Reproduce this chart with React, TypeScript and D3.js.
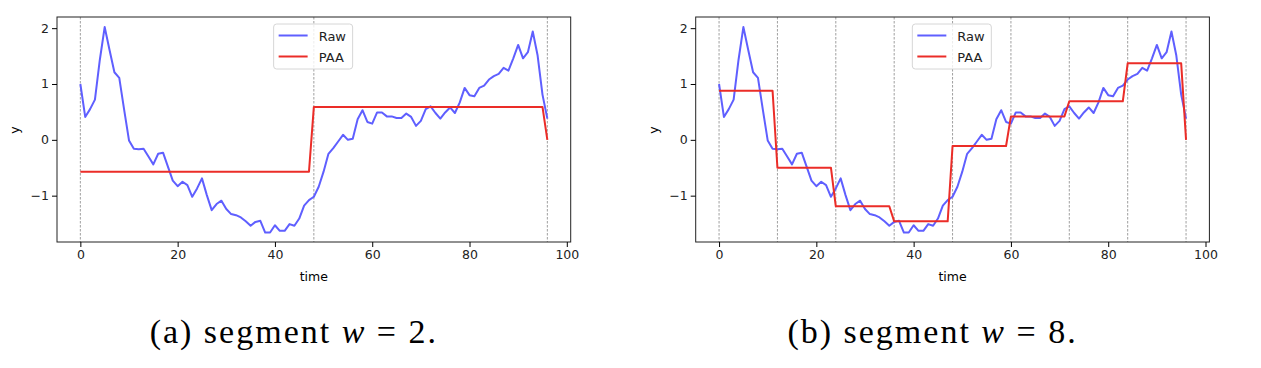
import { useRef, useEffect } from 'react';
import * as d3 from 'd3';

const times: number[] = d3.range(0, 97);

const raw: number[] = [
  1.0, 0.41, 0.55, 0.72, 1.43, 2.02, 1.61, 1.21, 1.11, 0.54,
  -0.01, -0.16, -0.17, -0.16, -0.3, -0.44, -0.25, -0.23, -0.48, -0.73,
  -0.83, -0.75, -0.81, -1.02, -0.87, -0.69, -0.99, -1.26, -1.15, -1.09,
  -1.24, -1.33, -1.35, -1.39, -1.46, -1.54, -1.47, -1.45, -1.66, -1.66,
  -1.53, -1.63, -1.63, -1.51, -1.54, -1.41, -1.18, -1.08, -1.02, -0.84,
  -0.57, -0.25, -0.15, -0.03, 0.09, 0.0, 0.02, 0.37, 0.53, 0.32,
  0.29, 0.49, 0.49, 0.42, 0.42, 0.39, 0.39, 0.47, 0.41, 0.25,
  0.34, 0.55, 0.6, 0.48, 0.38, 0.49, 0.58, 0.48, 0.67, 0.93,
  0.8, 0.78, 0.93, 0.97, 1.08, 1.14, 1.18, 1.29, 1.24, 1.46,
  1.7, 1.46, 1.57, 1.94, 1.51, 0.81, 0.38,
];

// segment means (last sample is the remainder, drawn at 0)
const paa2: number[] = [-0.57, 0.59];
const paa8: number[] = [0.88, -0.5, -1.19, -1.46, -0.11, 0.42, 0.69, 1.37];
const remainder = 0;

const xTicks: number[] = [0, 20, 40, 60, 80, 100];
const yTicks: number[] = [-1, 0, 1, 2];
const captions = [
  { label: '(a) segment ', w: '2' },
  { label: '(b) segment ', w: '8' },
];

function stepSeries(means: number[]): number[] {
  const len = 96 / means.length;
  return times.map(t => (t < 96 ? means[Math.floor(t / len)] : remainder));
}

const panels = [
  { left: 57, means: paa2, caption: captions[0] },
  { left: 695.7, means: paa8, caption: captions[1] },
];

function App() {
  const ref = useRef<SVGSVGElement>(null);

  useEffect(() => {
    const svg = d3.select(ref.current);
    svg.selectAll('*').remove();

    const top = 17;
    const bottom = 242;
    const w = 513.7;
    const font = 'DejaVu Sans, sans-serif';

    panels.forEach(p => {
      const x = d3.scaleLinear().domain([-4.8, 100.8]).range([p.left, p.left + w]);
      const y = d3.scaleLinear().domain([-1.83, 2.2]).range([bottom, top]);
      const g = svg.append('g');
      const len = 96 / p.means.length;

      // segment boundaries
      g.selectAll('.seg')
        .data(d3.range(0, 96 + len, len))
        .enter().append('line')
        .attr('x1', d => x(d)).attr('x2', d => x(d))
        .attr('y1', top).attr('y2', bottom)
        .attr('stroke', '#888')
        .attr('stroke-width', 0.8)
        .attr('stroke-dasharray', '2.5,1.5');

      const line = d3.line<number>().x((_, i) => x(times[i])).y(d => y(d));

      g.append('path')
        .attr('d', line(raw))
        .attr('fill', 'none')
        .attr('stroke', 'rgb(95,95,255)')
        .attr('stroke-width', 2)
        .attr('stroke-linejoin', 'round');

      g.append('path')
        .attr('d', line(stepSeries(p.means)))
        .attr('fill', 'none')
        .attr('stroke', 'rgb(235,45,40)')
        .attr('stroke-width', 2)
        .attr('stroke-linejoin', 'round');

      // frame
      g.append('rect')
        .attr('x', p.left).attr('y', top)
        .attr('width', w).attr('height', bottom - top)
        .attr('fill', 'none').attr('stroke', '#222').attr('stroke-width', 1);

      const xa = g.append('g')
        .attr('transform', `translate(0,${bottom})`)
        .call(d3.axisBottom(x).tickValues(xTicks).tickSize(5).tickPadding(3).tickFormat(d3.format('d')));
      xa.select('.domain').remove();
      xa.selectAll('text').attr('font-family', font).attr('font-size', 12.5).attr('fill', '#222');

      const ya = g.append('g')
        .attr('transform', `translate(${p.left},0)`)
        .call(d3.axisLeft(y).tickValues(yTicks).tickSize(5).tickPadding(3)
          .tickFormat(d => (+d < 0 ? '\u2212' + Math.abs(+d) : String(d))));
      ya.select('.domain').remove();
      ya.selectAll('text').attr('font-family', font).attr('font-size', 12.5).attr('fill', '#222');

      g.append('text')
        .attr('x', p.left + w / 2).attr('y', 281)
        .attr('text-anchor', 'middle')
        .attr('font-family', font).attr('font-size', 12.5)
        .text('time');

      g.append('text')
        .attr('transform', `translate(${p.left - 38},130) rotate(-90)`)
        .attr('text-anchor', 'middle')
        .attr('font-family', font).attr('font-size', 12.5)
        .text('y');

      // legend
      const lx = x(40) - 1.3;
      const lg = g.append('g').attr('transform', `translate(${lx},24)`);
      lg.append('rect')
        .attr('width', 79).attr('height', 45).attr('rx', 3)
        .attr('fill', 'rgba(255,255,255,0.8)').attr('stroke', '#d6d6d6');
      [['Raw', 'rgb(95,95,255)'], ['PAA', 'rgb(235,45,40)']].forEach(([name, c], i) => {
        lg.append('line')
          .attr('x1', 5).attr('x2', 34)
          .attr('y1', 11.5 + i * 21).attr('y2', 11.5 + i * 21)
          .attr('stroke', c).attr('stroke-width', 2);
        lg.append('text')
          .attr('x', 45).attr('y', 16.5 + i * 21)
          .attr('font-family', font).attr('font-size', 13)
          .attr('fill', '#222')
          .text(name);
      });

      // caption
      const cap = svg.append('text')
        .attr('x', p.left + w / 2 - 20).attr('y', 343)
        .attr('text-anchor', 'middle')
        .attr('font-family', 'Liberation Serif, serif').attr('font-size', 34)
        .attr('letter-spacing', 2);
      cap.append('tspan').text(p.caption.label);
      cap.append('tspan').attr('font-style', 'italic').text('w');
      cap.append('tspan').text(' = ' + p.caption.w + '.');
    });
  }, []);

  return (
    <svg ref={ref} width={1261} height={368}
      style={{ position: 'absolute', left: 0, top: 0, background: '#fff' }} />
  );
}

export default App;
